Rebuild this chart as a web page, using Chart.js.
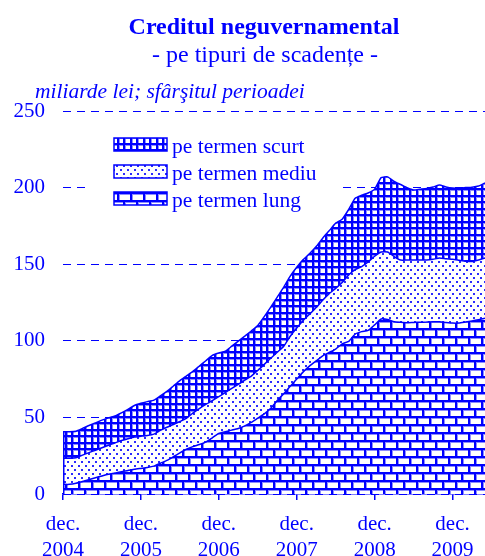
<!DOCTYPE html>
<html>
<head>
<meta charset="utf-8">
<script src="https://cdn.jsdelivr.net/npm/chart.js@4/dist/chart.umd.min.js"></script>
<style>
  html, body { margin: 0; padding: 0; background: #ffffff; }
  #wrap { width: 485px; height: 556px; }
</style>
</head>
<body>
<div id="wrap"><canvas id="c" width="485" height="556"></canvas></div>
<script>
// ---- data (miliarde lei, sfârşitul perioadei), monthly dec. 2004 .. mai 2010 ----
const monthNames = ['ian.','feb.','mar.','apr.','mai','iun.','iul.','aug.','sep.','oct.','nov.','dec.'];
const startYear = 2004;
const tickYears = ['2004','2005','2006','2007','2008','2009'];

const longTerm = [6.3,6.3,7.0,8.2,9.3,10.6,11.8,12.9,13.7,14.6,
  15.3,16.1,16.7,17.3,18.2,20.1,21.9,24.3,26.8,29.2,
  30.9,32.3,33.9,36.7,39.6,40.7,41.7,42.8,44.5,46.7,
  49.5,52.3,56.0,61.0,65.5,70.3,75.0,79.7,83.6,86.9,
  90.2,92.4,94.6,98.0,99.6,104.4,106.0,106.8,110.4,114.2,
  113.9,112.5,112.1,111.8,112.0,112.1,112.2,112.4,112.5,112.0,
  111.6,111.6,112.3,113.0,113.8,114.7];

const mediumTerm = [17.0,17.1,16.7,17.2,17.7,18.0,18.4,18.9,19.6,20.3,
  20.8,21.1,21.0,20.9,20.9,21.4,21.7,21.1,20.5,20.1,
  21.9,23.5,24.6,24.2,23.9,25.5,27.3,28.8,29.8,30.3,
  31.1,32.3,32.6,31.5,31.0,32.7,33.4,33.6,33.9,34.8,
  36.3,38.4,39.6,40.0,43.4,42.1,42.4,44.7,44.8,43.8,
  44.1,42.5,40.6,40.9,40.7,40.6,40.5,40.8,41.5,41.5,
  41.6,41.0,39.7,38.7,39.0,39.3];

const shortTerm = [17.4,17.3,17.3,17.4,17.7,17.8,18.0,17.9,17.7,18.1,
  19.1,20.6,21.5,22.1,22.2,22.6,23.4,25.1,26.7,27.7,
  27.2,27.7,28.5,29.6,28.5,27.0,27.5,28.2,28.7,29.4,
  29.4,31.2,33.4,36.0,38.5,39.2,39.6,39.7,39.5,39.8,
  40.5,41.0,42.6,41.4,42.7,46.5,46.6,45.0,43.8,48.5,
  49.0,49.0,49.3,47.2,45.7,46.3,46.8,47.2,47.7,46.9,
  46.5,47.1,48.0,48.6,48.2,49.0];

const seriesNames = ['pe termen scurt', 'pe termen mediu', 'pe termen lung'];
const yTicks = [0, 50, 100, 150, 200, 250];

const titleText = 'Creditul neguvernamental';
const subtitleText = '- pe tipuri de scadențe -';
const unitText = 'miliarde lei; sfârşitul perioadei';

// categories: months starting dec. 2004
const categories = longTerm.map((_, i) => {
  const m = (11 + i) % 12;
  const y = startYear + Math.floor((11 + i) / 12);
  return monthNames[m] + ' ' + y;
});

// ---- styling ----
const BLUE = '#0000ff';
const SOFT = '#8c8cff';
const SERIF = '"Liberation Serif", "Times New Roman", serif';

function makePattern(w, h, draw) {
  const c = document.createElement('canvas');
  c.width = w; c.height = h;
  const g = c.getContext('2d');
  g.fillStyle = '#ffffff';
  g.fillRect(0, 0, w, h);
  draw(g);
  return document.getElementById('c').getContext('2d').createPattern(c, 'repeat');
}
// crosshatch, period ~6.5 px
const gridPattern = makePattern(13, 13, g => {
  g.fillStyle = SOFT;
  g.fillRect(0, 0, 13, 3); g.fillRect(0, 6, 13, 3);
  g.fillRect(0, 0, 3, 13); g.fillRect(6, 0, 3, 13);
  g.fillStyle = BLUE;
  g.fillRect(0, 0, 13, 2); g.fillRect(0, 7, 13, 1); g.fillRect(0, 6, 13, 2);
  g.fillRect(0, 0, 2, 13); g.fillRect(6, 0, 2, 13);
});
const dotPattern = makePattern(7, 8, g => {
  g.fillStyle = '#2a2aff';
  g.fillRect(1, 1, 2, 2);
  g.fillRect(4, 5, 2, 2);
});
const brickPattern = makePattern(13, 16, g => {
  g.fillStyle = SOFT;
  g.fillRect(0, 0, 13, 3);
  g.fillRect(0, 8, 13, 3);
  g.fillRect(0, 0, 3, 8);
  g.fillRect(6, 8, 3, 8);
  g.fillStyle = BLUE;
  g.fillRect(0, 0, 13, 2);
  g.fillRect(0, 8, 13, 2);
  g.fillRect(0, 0, 2, 8);
  g.fillRect(6, 8, 2, 8);
});
const patterns = [gridPattern, dotPattern, brickPattern];

const textPlugin = {
  id: 'texts',
  afterDraw(chart) {
    const ctx = chart.ctx;
    ctx.save();
    ctx.fillStyle = BLUE;
    ctx.textAlign = 'center';
    ctx.textBaseline = 'alphabetic';
    ctx.font = 'bold 24px ' + SERIF;
    ctx.fillText(titleText, 264, 34);
    ctx.font = '24px ' + SERIF;
    ctx.fillText(subtitleText, 265, 62);
    ctx.textAlign = 'left';
    ctx.font = 'italic 21.5px ' + SERIF;
    ctx.fillText(unitText, 35, 98);

    // legend
    ctx.fillStyle = '#ffffff';
    ctx.fillRect(90, 124, 248, 92);
    const rows = [138, 165, 192];
    ctx.font = '21.5px ' + SERIF;
    rows.forEach((ry, k) => {
      ctx.fillStyle = patterns[k];
      ctx.fillRect(114, ry, 53, 13);
      ctx.strokeStyle = BLUE;
      ctx.lineWidth = 1.5;
      ctx.strokeRect(114, ry, 53, 13);
      ctx.fillStyle = BLUE;
      ctx.fillText(seriesNames[k], 172, ry + 15);
    });

    // left edge of the stacked area
    const xs = chart.scales.x, ys = chart.scales.y;
    const total = longTerm[0] + mediumTerm[0] + shortTerm[0];
    ctx.strokeStyle = BLUE;
    ctx.lineWidth = 1.5;
    ctx.beginPath();
    ctx.moveTo(xs.getPixelForValue(0) + 0.75, ys.getPixelForValue(0));
    ctx.lineTo(xs.getPixelForValue(0) + 0.75, ys.getPixelForValue(total));
    ctx.stroke();
    ctx.restore();
  }
};

new Chart(document.getElementById('c'), {
  type: 'line',
  data: {
    labels: categories,
    datasets: [
      { label: seriesNames[2], data: longTerm, fill: 'origin', backgroundColor: brickPattern,
        borderColor: BLUE, borderWidth: 1.5, pointRadius: 0, tension: 0.15 },
      { label: seriesNames[1], data: mediumTerm, fill: '-1', backgroundColor: dotPattern,
        borderColor: BLUE, borderWidth: 1.5, pointRadius: 0, tension: 0.15 },
      { label: seriesNames[0], data: shortTerm, fill: '-1', backgroundColor: gridPattern,
        borderColor: BLUE, borderWidth: 1.5, pointRadius: 0, tension: 0.15 }
    ]
  },
  options: {
    responsive: false,
    animation: false,
    devicePixelRatio: 1,
    layout: { padding: { top: 111, left: 0, right: 0, bottom: 0 } },
    plugins: { legend: { display: false }, title: { display: false }, tooltip: { enabled: false } },
    scales: {
      x: {
        type: 'category',
        offset: false,
        stacked: true,
        afterFit(s) { s.height = 62; s.paddingRight = 0; s.paddingLeft = 0; },
        grid: {
          display: true, drawOnChartArea: false, drawTicks: true, tickLength: 6,
          color: ctx => (ctx.index % 12 === 0 ? BLUE : 'rgba(0,0,0,0)'),
          tickColor: ctx => (ctx.index % 12 === 0 ? BLUE : 'rgba(0,0,0,0)'),
          lineWidth: 1.5
        },
        border: { display: true, color: BLUE, width: 1.5 },
        ticks: {
          autoSkip: false, maxRotation: 0, minRotation: 0, padding: 11,
          color: BLUE,
          font: { family: SERIF, size: 21, lineHeight: 1.24 },
          callback: (v, i) => (i % 12 === 0 ? ['dec.', tickYears[i / 12]] : '')
        }
      },
      y: {
        stacked: true,
        min: 0, max: 250,
        afterFit(s) { s.width = 63; },
        afterBuildTicks(s) { s.ticks = yTicks.map(v => ({ value: v })); },
        grid: { display: true, drawTicks: false, color: BLUE, lineWidth: 1 },
        border: { display: false, dash: [8, 6] },
        ticks: {
          padding: 18, color: BLUE,
          font: { family: SERIF, size: 21 }
        }
      }
    }
  },
  plugins: [textPlugin]
});
</script>
</body>
</html>
